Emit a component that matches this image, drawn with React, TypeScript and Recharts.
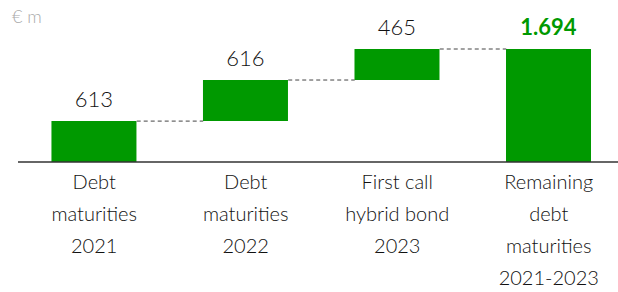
import React from "react";
import { ComposedChart, Bar, XAxis, YAxis, ReferenceLine, LabelList } from "recharts";

const categories: string[][] = [
  ["Debt", "maturities", "2021"],
  ["Debt", "maturities", "2022"],
  ["First call", "hybrid bond", "2023"],
  ["Remaining", "debt", "maturities", "2021-2023"],
];
const stepValues = [613, 616, 465];
const totalValue = 1694;
const valueLabels = ["613", "616", "465", "1.694"];
const unitLabel = "€ m";

const GREEN = "#009900";
const FONT = "Lato, 'Open Sans', sans-serif";
const BAR_PX = 85;
const BAND_PX = 151.5;
const HALF = BAR_PX / 2 / BAND_PX;

const data = (() => {
  const rows: { x: number; base: number; value: number }[] = [];
  let cum = 0;
  stepValues.forEach((v, i) => {
    rows.push({ x: i, base: cum, value: v });
    cum += v;
  });
  rows.push({ x: stepValues.length, base: 0, value: totalValue });
  return rows;
})();

const levels = (() => {
  const out: number[] = [];
  let cum = 0;
  stepValues.forEach((v) => {
    cum += v;
    out.push(cum);
  });
  return out;
})();

const Tick = (props: any) => {
  const { x, y, payload } = props;
  const lines = categories[payload.value] || [];
  return (
    <text x={x} y={y} textAnchor="middle" fill="#111" fontSize={20} fontFamily={FONT} fontWeight={300}>
      {lines.map((l, i) => (
        <tspan key={i} x={x} dy={i === 0 ? 27 : 32}>
          {l}
        </tspan>
      ))}
    </text>
  );
};

const ValueLabel = (props: any) => {
  const { x, y, width, index } = props;
  const isTotal = index === data.length - 1;
  return (
    <text
      x={x + width / 2}
      y={y - 14}
      textAnchor="middle"
      fill={isTotal ? GREEN : "#111"}
      fontSize={22}
      fontWeight={isTotal ? 700 : 300}
      fontFamily={FONT}
    >
      {valueLabels[index]}
    </text>
  );
};

export default function App() {
  return (
    <div style={{ position: "absolute", left: 0, top: 0, width: 618, height: 292, background: "#fff" }}>
      <ComposedChart
        width={618}
        height={292}
        data={data}
        margin={{ top: 49, right: 0, bottom: 0, left: 18 }}
      >
        <XAxis
          dataKey="x"
          type="number"
          domain={[-0.503, 3.457]}
          ticks={[0, 1, 2, 3]}
          interval={0}
          tickLine={false}
          tickSize={0}
          tickMargin={0}
          height={130}
          axisLine={{ stroke: "#333", strokeWidth: 1.5 }}
          tick={<Tick />}
          allowDataOverflow
        />
        <YAxis hide domain={[0, totalValue]} allowDataOverflow />
        <Bar dataKey="base" stackId="a" fill="transparent" isAnimationActive={false} barSize={BAR_PX} />
        <Bar dataKey="value" stackId="a" fill={GREEN} isAnimationActive={false} barSize={BAR_PX}>
          <LabelList dataKey="value" content={<ValueLabel />} />
        </Bar>
        {levels.map((lv, i) => (
          <ReferenceLine
            key={i}
            segment={[
              { x: i + HALF, y: lv },
              { x: i + 1 - HALF, y: lv },
            ]}
            stroke="#444"
            strokeDasharray="4 3"
            strokeWidth={1}
          />
        ))}
        <text x={12} y={23} fill="#aaa" fontSize={18} fontFamily={FONT} fontWeight={300}>
          {unitLabel}
        </text>
      </ComposedChart>
    </div>
  );
}
